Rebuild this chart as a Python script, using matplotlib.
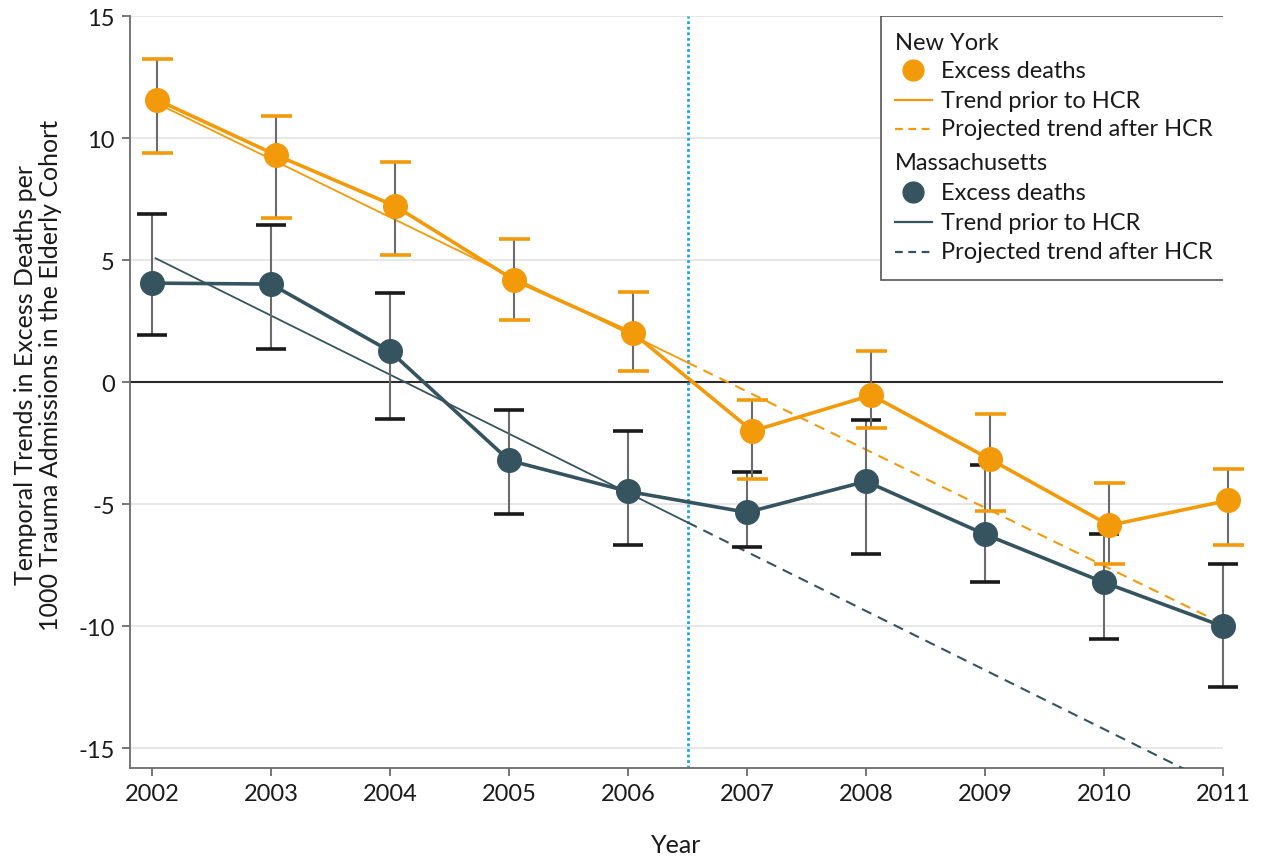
import matplotlib
matplotlib.use("Agg")
import matplotlib.pyplot as plt
from matplotlib.lines import Line2D
from matplotlib.patches import Rectangle
import numpy as np

plt.rcParams['font.family'] = ['Lato', 'DejaVu Sans']
plt.rcParams['axes.unicode_minus'] = False

years = [2002, 2003, 2004, 2005, 2006, 2007, 2008, 2009, 2010, 2011]
ny_vals = [11.56, 9.30, 7.21, 4.18, 2.00, -2.00, -0.53, -3.16, -5.86, -4.84]
ny_hi = [13.24, 10.90, 9.02, 5.86, 3.69, -0.74, 1.27, -1.31, -4.14, -3.57]
ny_lo = [9.39, 6.72, 5.20, 2.54, 0.45, -3.98, -1.89, -5.29, -7.46, -6.68]
ma_vals = [4.06, 4.02, 1.27, -3.20, -4.47, -5.33, -4.06, -6.23, -8.20, -10.00]
ma_hi = [6.89, 6.43, 3.65, -1.15, -2.00, -3.69, -1.56, -3.40, -6.23, -7.46]
ma_lo = [1.93, 1.35, -1.52, -5.41, -6.68, -6.76, -7.05, -8.20, -10.50, -12.50]
# linear trends: value at 2002 and slope per year
ny_trend = (11.52, -2.38)
ma_trend = (5.15, -2.42)
hcr_year = 2006.5
yticks = [-15, -10, -5, 0, 5, 10, 15]

ORANGE = '#F39A0B'
TEAL = '#36545F'
GRAY = '#6b6b6b'
BLUE = '#1BA5E6'
TXT = '#1a1a1a'

W, H = 1266, 862
fig = plt.figure(figsize=(W / 100, H / 100), dpi=100)
ax = fig.add_axes([130 / W, (H - 769) / H, (1223 - 130) / W, (769 - 17) / H])

ax.set_xlim(2001.815, 2011)
ax.set_ylim(-15.8, 15)

for yv in yticks:
    if yv != 0:
        ax.axhline(yv, color='#e3e3e3', lw=1.2, zorder=0)
ax.axhline(0, color='#2b2b2b', lw=1.5, zorder=1)
ax.axvline(hcr_year, color=BLUE, lw=2, ls=(0, (1, 1)), zorder=1)

off_ny = 0.045
off_ma = 0.0
x_ny = np.array(years) + off_ny
x_ma = np.array(years) + off_ma

def trend(p, x):
    return p[0] + p[1] * (np.asarray(x) - 2002)

# trend lines
for p, col, x0 in [(ny_trend, ORANGE, 2002.04), (ma_trend, TEAL, 2002.03)]:
    xs = np.array([x0, hcr_year])
    ax.plot(xs, trend(p, xs), color=col, lw=1.3, zorder=3)
    xd = np.array([hcr_year, 2011])
    ax.plot(xd, trend(p, xd), color=col, lw=1.5, ls=(0, (5, 3.5)), zorder=3)

# error bars
def errbars(xs, lo, hi, capcol):
    for x, l, h in zip(xs, lo, hi):
        ax.plot([x, x], [l, h], color=GRAY, lw=1.5, zorder=4, clip_on=False)
        for yy in (l, h):
            ax.plot([x - 0.13, x + 0.13], [yy, yy], color=capcol, lw=2.6,
                    zorder=4, clip_on=False, solid_capstyle='butt')

errbars(x_ma, ma_lo, ma_hi, '#1a1a1a')
errbars(x_ny, ny_lo, ny_hi, ORANGE)

ax.plot(x_ma, ma_vals, color=TEAL, lw=2.6, marker='o', ms=17, zorder=5, clip_on=False)
ax.plot(x_ny, ny_vals, color=ORANGE, lw=2.6, marker='o', ms=17, zorder=6, clip_on=False)

# axes styling
for s in ['top', 'right']:
    ax.spines[s].set_visible(False)
for s in ['left', 'bottom']:
    ax.spines[s].set_color(GRAY)
    ax.spines[s].set_linewidth(1.3)
ax.set_xticks(years)
ax.set_yticks(yticks)
ax.tick_params(axis='both', colors=GRAY, length=6, width=1.3, labelsize=17,
               labelcolor=TXT, pad=5)
ax.set_xlabel('Year', fontsize=18, color=TXT)
ax.xaxis.set_label_coords(0.5, -0.087)
fig.text(38 / W, 1 - 375 / H,
         'Temporal Trends in Excess Deaths per\n1000 Trauma Admissions in the Elderly Cohort',
         rotation=90, ha='center', va='center', fontsize=18, color=TXT,
         linespacing=1.1, multialignment='center')

# legend (drawn manually to allow group headers)
def px(x, y):
    return ax.transAxes.inverted().transform(fig.transFigure.transform((x / W, 1 - y / H)))

x0, y0 = px(881, 281)
x1, y1 = px(1225, 17)
ax.add_patch(Rectangle((x0, y0), x1 - x0, y1 - y0, transform=ax.transAxes,
                       facecolor='white', edgecolor='#555555', lw=1.2, zorder=10))
rows = [
    ('New York', None, None, 43),
    ('Excess deaths', ORANGE, 'marker', 71),
    ('Trend prior to HCR', ORANGE, 'solid', 101),
    ('Projected trend after HCR', ORANGE, 'dash', 130),
    ('Massachusetts', None, None, 163),
    ('Excess deaths', TEAL, 'marker', 193),
    ('Trend prior to HCR', TEAL, 'solid', 223),
    ('Projected trend after HCR', TEAL, 'dash', 253),
]
for label, col, kind, yy in rows:
    if kind is None:
        tx, ty = px(895, yy)
    else:
        tx, ty = px(941, yy)
        if kind == 'marker':
            mx, my = px(913, yy)
            ax.add_line(Line2D([mx], [my], marker='o', ms=15, color=col,
                               transform=ax.transAxes, zorder=11, clip_on=False))
        else:
            ax_, ay = px(895, yy)
            bx, _ = px(932, yy)
            ls = '-' if kind == 'solid' else (0, (3.5, 2.5))
            ax.add_line(Line2D([ax_, bx], [ay, ay], color=col, lw=1.6, ls=ls,
                               transform=ax.transAxes, zorder=11, clip_on=False))
    ax.text(tx, ty, label, transform=ax.transAxes, fontsize=17, color=TXT,
            va='center', ha='left', zorder=12)

fig.savefig('out.png', dpi=100, facecolor='white')
